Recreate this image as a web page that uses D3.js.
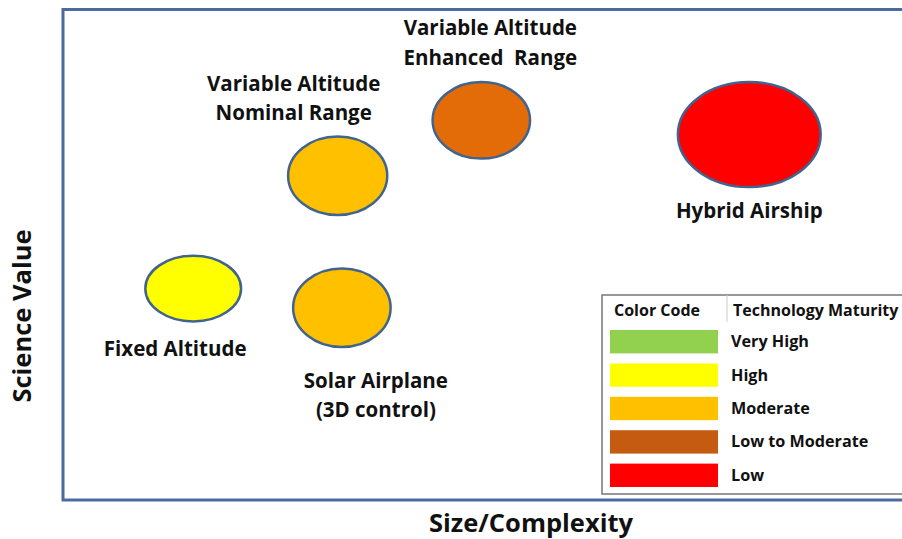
<!DOCTYPE html>
<html><head><meta charset="utf-8">
<script src="https://cdn.jsdelivr.net/npm/d3@7/dist/d3.min.js"></script>
<style>html,body{margin:0;padding:0;background:#fff;}svg{display:block;}</style>
</head><body>
<svg id="chart" width="902" height="539"></svg>
<script>
// ---- data ----
const concepts = ["Fixed Altitude", "Solar Airplane|(3D control)", "Variable Altitude|Nominal Range", "Variable Altitude|Enhanced  Range", "Hybrid Airship"];
const sizeComplexity = [15.5, 33.2, 32.7, 49.8, 81.7];
const scienceValue = [43.1, 39.2, 66.1, 77.4, 74.5];
const spanX = [5.7, 5.8, 5.9, 5.8, 8.5];
const spanY = [6.7, 8.0, 8.0, 7.8, 10.7];
const maturity = ["High", "Moderate", "Moderate", "Low to Moderate", "Low"];
const legendLevels = ["Very High", "High", "Moderate", "Low to Moderate", "Low"];
const legendColors = ["#92d050", "#ffff00", "#ffc000", "#c55a11", "#ff0000"];
const bubbleColors = {"High": "#ffff00", "Moderate": "#ffc000", "Low to Moderate": "#e36c09", "Low": "#ff0000"};

// ---- layout ----
const labelOffsets = [[-18, 67], [34, 80], [-44, -85], [9, -85], [0, 83]];
const svg = d3.select("#chart");
const font = "'Open Sans', Lato, sans-serif";
const pL = 63, pT = 9.5, pB = 500, pR = 903;
const x = d3.scaleLinear().domain([0, 100]).range([pL, pR]);
const y = d3.scaleLinear().domain([0, 100]).range([pB, pT]);
const kx = x(1) - x(0), ky = y(0) - y(1);

// frame
svg.append("path")
  .attr("d", `M${pR + 5},${pT} L${pL},${pT} L${pL},${pB} L${pR + 5},${pB}`)
  .attr("fill", "none").attr("stroke", "#4a6b9c").attr("stroke-width", 3);

// bubbles
const g = svg.append("g");
concepts.forEach((c, i) => {
  const cx = x(sizeComplexity[i]), cy = y(scienceValue[i]);
  g.append("ellipse")
    .attr("cx", cx).attr("cy", cy)
    .attr("rx", spanX[i] * kx).attr("ry", spanY[i] * ky)
    .attr("fill", bubbleColors[maturity[i]])
    .attr("stroke", "#41648f").attr("stroke-width", 2.5);
  const lines = c.split("|");
  const t = g.append("text")
    .attr("x", cx + labelOffsets[i][0]).attr("y", cy + labelOffsets[i][1])
    .attr("text-anchor", "middle").attr("font-family", font)
    .attr("font-weight", "bold").attr("font-size", 20.5).attr("fill", "#111")
    .style("white-space", "pre");
  lines.forEach((l, j) => {
    t.append("tspan").attr("x", cx + labelOffsets[i][0]).attr("dy", j === 0 ? 0 : 29.5).text(l);
  });
});

// axis titles
svg.append("text").attr("x", 531).attr("y", 532).attr("text-anchor", "middle")
  .attr("font-family", font).attr("font-weight", "bold").attr("font-size", 25.5).attr("fill", "#111")
  .text("Size/Complexity");
svg.append("text").attr("transform", "translate(31,316) rotate(-90)").attr("text-anchor", "middle")
  .attr("font-family", font).attr("font-weight", "bold").attr("font-size", 25.5).attr("fill", "#111")
  .text("Science Value");

// legend
const lg = svg.append("g");
const lx = 602, ly = 295, lb = 494;
lg.append("path").attr("d", `M${pR},${ly} L${lx},${ly} L${lx},${lb} L${pR},${lb}`)
  .attr("fill", "none").attr("stroke", "#777").attr("stroke-width", 1.5);
lg.append("line").attr("x1", 727).attr("x2", 727).attr("y1", ly).attr("y2", 322)
  .attr("stroke", "#ccc").attr("stroke-width", 1);
lg.append("text").attr("x", 614).attr("y", 316).attr("font-family", font)
  .attr("font-weight", "bold").attr("font-size", 16).attr("fill", "#111").text("Color Code");
lg.append("text").attr("x", 733).attr("y", 316).attr("font-family", font)
  .attr("font-weight", "bold").attr("font-size", 16).attr("fill", "#111").text("Technology Maturity");
const rowY = d3.scaleBand().domain(legendLevels).range([326, 491]).paddingInner(0.3).paddingOuter(0.12);
legendLevels.forEach((lvl, i) => {
  lg.append("rect").attr("x", 610).attr("y", rowY(lvl)).attr("width", 108).attr("height", rowY.bandwidth())
    .attr("fill", legendColors[i]);
  lg.append("text").attr("x", 731).attr("y", rowY(lvl) + rowY.bandwidth() / 2 + 5.5)
    .attr("font-family", font).attr("font-weight", "bold").attr("font-size", 16.2).attr("fill", "#111").text(lvl);
});
</script>
</body></html>
